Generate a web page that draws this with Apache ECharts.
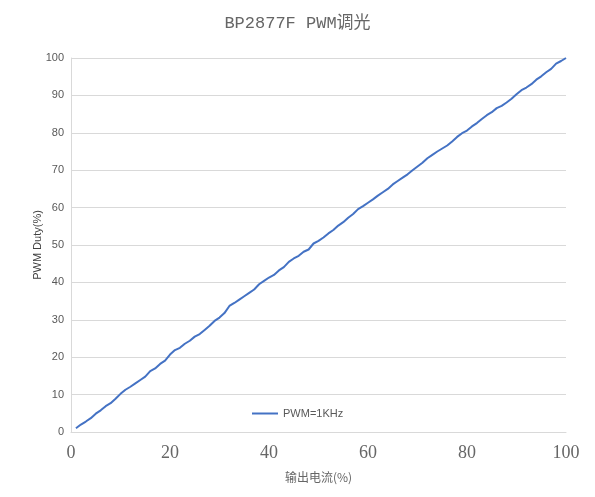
<!DOCTYPE html>
<html>
<head>
<meta charset="utf-8">
<script src="https://cdn.jsdelivr.net/npm/echarts@6/dist/echarts.min.js"></script>
<style>html,body{margin:0;padding:0;background:#fff;}#c{width:595px;height:497px;}</style>
</head>
<body>
<div id="c"></div>
<script>
var titleText = 'BP2877F PWM调光';
var seriesName = 'PWM=1KHz';
var xName = '输出电流(%)';
var yName = 'PWM Duty(%)';
var current = [];
for (var i = 1; i <= 100; i++) current.push(i);
var duty = [1.0,2.0,2.8,3.7,4.9,5.8,6.9,7.7,8.9,10.2,
11.3,12.1,13.0,13.9,14.8,16.3,17.0,18.2,19.1,20.7,
21.9,22.5,23.6,24.4,25.5,26.2,27.3,28.4,29.7,30.6,
31.8,33.7,34.5,35.4,36.3,37.2,38.1,39.5,40.4,41.3,
42.0,43.2,44.1,45.5,46.4,47.1,48.2,48.8,50.4,51.1,
52.0,53.1,54.0,55.2,56.1,57.3,58.3,59.6,60.4,61.3,
62.2,63.2,64.1,65.0,66.2,67.1,68.0,68.9,70.0,71.0,
72.0,73.2,74.1,75.0,75.8,76.6,77.7,78.9,79.9,80.6,
81.7,82.6,83.7,84.7,85.5,86.6,87.2,88.1,89.1,90.3,
91.4,92.1,93.0,94.2,95.1,96.2,97.1,98.5,99.2,100.0];
var data = current.map(function(x, k){ return [x, duty[k]]; });

var chart = echarts.init(document.getElementById('c'));
chart.setOption({
  backgroundColor: '#ffffff',
  animation: false,
  title: {
    text: titleText,
    left: 'center',
    top: 10,
    textStyle: { fontFamily: "'Liberation Mono','Noto Sans CJK SC'", fontSize: 17, fontWeight: 'normal', color: '#666666' }
  },
  legend: {
    left: 247, top: 403,
    icon: 'rect',
    itemWidth: 26, itemHeight: 2, itemGap: 4,
    textStyle: { fontFamily: "'Liberation Sans'", fontSize: 11, color: '#595959' },
    data: [seriesName]
  },
  grid: { left: 71, right: 29, top: 58, bottom: 65, containLabel: false },
  xAxis: {
    type: 'value', min: 0, max: 100, interval: 20,
    name: xName, nameLocation: 'middle', nameGap: 39,
    nameMoveOverlap: false,
    nameTextStyle: { fontFamily: "'Noto Sans CJK SC'", fontSize: 12, color: '#666666' },
    axisLine: { show: true, lineStyle: { color: '#d9d9d9', width: 1 } },
    axisTick: { show: false },
    splitLine: { show: false },
    axisLabel: { margin: 12, fontFamily: "'Liberation Serif'", fontSize: 18, color: '#666666' }
  },
  yAxis: {
    type: 'value', min: 0, max: 100, interval: 10,
    name: yName, nameLocation: 'middle', nameGap: 28,
    nameMoveOverlap: false,
    nameTextStyle: { fontFamily: "'Liberation Sans'", fontSize: 11, color: '#404040' },
    axisLine: { show: true, lineStyle: { color: '#d9d9d9', width: 1 } },
    axisTick: { show: false },
    splitLine: { show: true, lineStyle: { color: '#d9d9d9', width: 1 } },
    axisLabel: { margin: 7, fontFamily: "'Liberation Sans'", fontSize: 11, color: '#595959' }
  },
  series: [{
    name: seriesName,
    type: 'line',
    data: data,
    symbol: 'none',
    showSymbol: false,
    smooth: false,
    lineStyle: { color: '#4472C4', width: 2 },
    itemStyle: { color: '#4472C4' }
  }]
});
</script>
</body>
</html>
